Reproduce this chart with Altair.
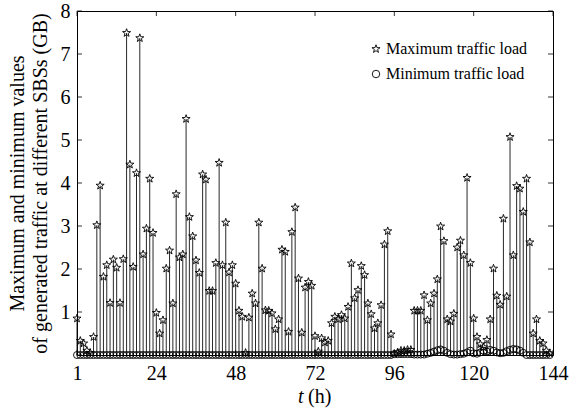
import math

import altair as alt
import pandas as pd

# Hour index of each sample (144 hourly samples)
hours = list(range(0, 144))

# Maximum generated traffic over the SBSs at each hour (GB)
max_load = [
    0.85, 0.33, 0.27, 0.10, 0.05, 0.42, 3.02, 3.94, 1.82, 2.09, 1.21, 2.22,
    2.03, 1.21, 2.23, 7.49, 4.43, 2.05, 4.23, 7.37, 2.34, 2.94, 4.10, 2.84,
    0.98, 0.50, 0.81, 2.01, 2.43, 1.20, 3.74, 2.27, 2.34, 5.49, 3.21, 2.76,
    2.20, 1.91, 4.20, 4.08, 1.49, 1.49, 2.14, 4.47, 2.09, 3.08, 1.92, 2.09,
    1.66, 1.03, 0.89, 0.05, 0.87, 1.43, 1.20, 3.08, 2.01, 1.04, 1.03, 0.97,
    0.60, 0.83, 2.45, 2.40, 0.54, 2.86, 3.43, 1.78, 0.52, 1.57, 1.70, 1.61,
    0.44, 0.08, 0.39, 0.29, 0.33, 0.74, 0.89, 0.83, 0.93, 0.85, 1.12, 2.13,
    1.32, 1.51, 2.07, 1.86, 1.20, 0.95, 0.62, 0.74, 1.16, 2.57, 2.88, 0.48,
    0.03, 0.06, 0.10, 0.10, 0.12, 0.12, 1.03, 1.03, 1.03, 1.39, 0.81, 1.20,
    1.43, 1.76, 2.99, 2.65, 0.83, 0.78, 0.96, 2.50, 2.66, 2.32, 4.12, 2.14,
    0.85, 0.42, 0.25, 0.18, 0.35, 0.83, 2.01, 1.38, 1.17, 3.17, 1.36, 5.07,
    2.32, 3.93, 3.87, 3.33, 4.10, 2.62, 0.50, 0.83, 0.33, 0.27, 0.10, 0.04,
]

# Minimum generated traffic over the SBSs at each hour (GB)
min_load = [
    0.00, 0.00, 0.00, 0.00, 0.00, 0.00, 0.00, 0.00, 0.00, 0.00, 0.00, 0.00,
    0.00, 0.00, 0.00, 0.00, 0.00, 0.00, 0.00, 0.00, 0.00, 0.00, 0.00, 0.00,
    0.00, 0.00, 0.00, 0.00, 0.00, 0.00, 0.00, 0.00, 0.00, 0.00, 0.00, 0.00,
    0.00, 0.00, 0.00, 0.00, 0.00, 0.00, 0.00, 0.00, 0.00, 0.00, 0.00, 0.00,
    0.00, 0.00, 0.00, 0.00, 0.00, 0.00, 0.00, 0.00, 0.00, 0.00, 0.00, 0.00,
    0.00, 0.00, 0.00, 0.00, 0.00, 0.00, 0.00, 0.00, 0.00, 0.00, 0.00, 0.00,
    0.00, 0.00, 0.00, 0.00, 0.00, 0.00, 0.00, 0.00, 0.00, 0.00, 0.00, 0.00,
    0.00, 0.00, 0.00, 0.00, 0.00, 0.00, 0.00, 0.00, 0.00, 0.00, 0.00, 0.00,
    0.02, 0.02, 0.02, 0.02, 0.02, 0.02, 0.01, 0.01, 0.01, 0.01, 0.03, 0.05,
    0.08, 0.11, 0.13, 0.10, 0.05, 0.02, 0.01, 0.01, 0.02, 0.03, 0.06, 0.10,
    0.04, 0.03, 0.06, 0.10, 0.08, 0.12, 0.10, 0.06, 0.04, 0.05, 0.09, 0.12,
    0.14, 0.13, 0.10, 0.05, 0.00, 0.00, 0.00, 0.00, 0.00, 0.00, 0.00, 0.00,
]

x_ticks = [0, 24, 48, 72, 96, 120, 144]
y_ticks = [0, 1, 2, 3, 4, 5, 6, 7, 8]
y_labels = [1, 2, 3, 4, 5, 6, 7, 8]
legend_labels = ["Maximum traffic load", "Minimum traffic load"]

W, H = 476, 344
FONT = "Liberation Serif"
INK = "black"


def star_path(outer=1.0, inner=0.4):
    """Five-pointed star outline inside the [-1, 1] symbol box."""
    pts = []
    for k in range(10):
        r = outer if k % 2 == 0 else inner
        a = math.radians(-90 + 36 * k)
        pts.append(f"{r * math.cos(a):.4f},{r * math.sin(a):.4f}")
    return "M" + " L".join(pts) + " Z"


STAR = star_path()

df = pd.DataFrame({"t": hours, "max": max_load, "min": min_load})

x_scale = alt.Scale(domain=[0, 144], nice=False, zero=False)
y_scale = alt.Scale(domain=[0, 8], nice=False)

x_axis = alt.Axis(
    values=x_ticks,
    labelExpr="datum.value == 0 ? '1' : datum.label",
    title=None,
    ticks=False,
    domain=False,
    grid=False,
    labelFont=FONT,
    labelFontSize=20,
    labelColor=INK,
    labelPadding=8,
    labelFlush=False,
)
y_axis = alt.Axis(
    values=y_labels,
    title=["Maximum and minimum values", "of generated traffic at different SBSs (GB)"],
    titleFont=FONT,
    titleFontSize=20,
    titleFontWeight="normal",
    titleColor=INK,
    titlePadding=10,
    titleLineHeight=23,
    ticks=False,
    domain=False,
    grid=False,
    labelFont=FONT,
    labelFontSize=20,
    labelColor=INK,
    labelPadding=7,
)

X = alt.X("t:Q", scale=x_scale, axis=x_axis)

base = alt.Chart(df)

max_stems = base.mark_rule(color="#111111", strokeWidth=0.9).encode(
    x=X, y=alt.Y("max:Q", scale=y_scale, axis=y_axis), y2=alt.datum(0)
)
min_stems = base.mark_rule(color="#111111", strokeWidth=0.9).encode(
    x=X, y=alt.Y("min:Q", scale=y_scale, axis=y_axis), y2=alt.datum(0)
)
max_pts = base.mark_point(
    shape=STAR, size=72, filled=False, stroke=INK, strokeWidth=0.9, opacity=1
).encode(x=X, y=alt.Y("max:Q", scale=y_scale, axis=y_axis))
min_pts = base.mark_point(
    shape="circle", size=49, filled=False, stroke=INK, strokeWidth=0.9, opacity=1
).encode(x=X, y=alt.Y("min:Q", scale=y_scale, axis=y_axis))

# Inward-pointing tick marks on all four sides of the frame
xt = alt.Chart(pd.DataFrame({"t": x_ticks}))
yt = alt.Chart(pd.DataFrame({"v": y_ticks}))
tick_top = xt.mark_rule(color=INK, strokeWidth=0.8).encode(
    x=X, y=alt.value(0), y2=alt.value(5)
)
tick_bottom = xt.mark_rule(color=INK, strokeWidth=0.8).encode(
    x=X, y=alt.value(H), y2=alt.value(H - 5)
)
tick_left = yt.mark_rule(color=INK, strokeWidth=0.8).encode(
    y=alt.Y("v:Q", scale=y_scale, axis=y_axis), x=alt.value(0), x2=alt.value(5)
)
tick_right = yt.mark_rule(color=INK, strokeWidth=0.8).encode(
    y=alt.Y("v:Q", scale=y_scale, axis=y_axis), x=alt.value(W), x2=alt.value(W - 5)
)

# Legend box contents
one = alt.Chart(pd.DataFrame({"k": [0]}))
LEG_X, LEG_Y1, LEG_Y2 = 299, 38, 63
leg_star = one.mark_point(
    shape=STAR, size=72, filled=False, stroke=INK, strokeWidth=0.9, opacity=1
).encode(x=alt.value(LEG_X), y=alt.value(LEG_Y1))
leg_circ = one.mark_point(
    shape="circle", size=56, filled=False, stroke=INK, strokeWidth=0.9, opacity=1
).encode(x=alt.value(LEG_X), y=alt.value(LEG_Y2))
leg_txt1 = one.mark_text(
    font=FONT, fontSize=16, align="left", baseline="middle", color=INK
).encode(x=alt.value(LEG_X + 10), y=alt.value(LEG_Y1), text=alt.value(legend_labels[0]))
leg_txt2 = one.mark_text(
    font=FONT, fontSize=16, align="left", baseline="middle", color=INK
).encode(x=alt.value(LEG_X + 10), y=alt.value(LEG_Y2), text=alt.value(legend_labels[1]))

# x-axis title: italic "t" followed by "(h)"
xt_t = one.mark_text(
    font=FONT, fontSize=20, fontStyle="italic", align="left", baseline="middle", color=INK
).encode(x=alt.value(221), y=alt.value(386), text=alt.value("t"))
xt_h = one.mark_text(
    font=FONT, fontSize=20, align="left", baseline="middle", color=INK
).encode(x=alt.value(231), y=alt.value(386), text=alt.value("(h)"))

chart = (
    alt.layer(
        max_stems, min_stems, max_pts, min_pts,
        tick_top, tick_bottom, tick_left, tick_right,
        leg_star, leg_circ, leg_txt1, leg_txt2, xt_t, xt_h,
    )
    .properties(
        width=W,
        height=H,
        autosize="none",
        padding={"left": 77, "top": 11, "right": 16, "bottom": 56},
        background="white",
    )
    .configure_view(stroke=INK, strokeWidth=1)
)

chart.save("out.html", embed_options={"renderer": "svg", "actions": False})
